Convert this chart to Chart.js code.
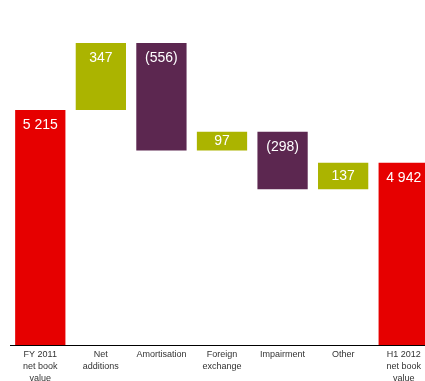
<!DOCTYPE html>
<html>
<head>
<meta charset="utf-8">
<script src="https://cdn.jsdelivr.net/npm/chart.js@4.4.0/dist/chart.umd.min.js"></script>
<style>
  html, body { margin: 0; padding: 0; background: #fff; overflow: hidden; }
  #wrap { width: 425px; height: 381px; overflow: hidden; position: relative; }
  canvas { position: absolute; left: 0; top: 0; }
</style>
</head>
<body>
<div id="wrap"><canvas id="bridge" width="434" height="381"></canvas></div>
<script>
// categories and movements (EUR m)
const categories = [
    ['FY 2011', 'net book', 'value'],
    ['Net', 'additions'],
    'Amortisation',
    ['Foreign', 'exchange'],
    'Impairment',
    'Other',
    ['H1 2012', 'net book', 'value']
]
const values = [5215, 347, -556, 97, -298, 137, 4942]
const isTotal = [true, false, false, false, false, false, true]

const axisMin = 4000
const axisMax = 5784

const RED = '#e60000'
const OLIVE = '#abb400'
const PLUM = '#5c2750'

// build floating bars
let running = 0
const ranges = []
const colours = []
for (let i = 0; i < values.length; i++) {
    if (isTotal[i]) {
        ranges.push([axisMin, values[i]])
        running = values[i]
        colours.push(RED)
    } else {
        ranges.push([running, running + values[i]])
        running += values[i]
        colours.push(values[i] < 0 ? PLUM : OLIVE)
    }
}

function fmt(v) {
    let s = String(Math.abs(v)).replace(/\B(?=(\d{3})+(?!\d))/g, ' ')
    return v < 0 ? '(' + s + ')' : s
}

// value labels near the top of every bar
const barLabels = {
    id: 'barLabels',
    afterDatasetsDraw(chart) {
        const ctx = chart.ctx
        const meta = chart.getDatasetMeta(0)
        ctx.save()
        ctx.fillStyle = '#ffffff'
        ctx.font = '14px "Liberation Sans", Arial, sans-serif'
        ctx.textAlign = 'center'
        ctx.textBaseline = 'middle'
        meta.data.forEach((bar, i) => {
            const top = Math.min(bar.y, bar.base)
            const h = Math.abs(bar.base - bar.y)
            ctx.fillText(fmt(values[i]), bar.x, top + Math.min(15, h / 2))
        })
        ctx.restore()
    }
}

const myChart = new Chart(document.getElementById('bridge'), {
    type: 'bar',
    data: {
        labels: categories,
        datasets: [{
            data: ranges,
            backgroundColor: colours,
            borderWidth: 0,
            categoryPercentage: 1,
            barPercentage: 0.83
        }]
    },
    options: {
        responsive: false,
        animation: false,
        devicePixelRatio: 1,
        layout: { padding: { left: 10, right: 0, top: 0, bottom: 0 } },
        plugins: {
            legend: { display: false },
            tooltip: { enabled: false }
        },
        scales: {
            x: {
                afterFit(scale) { scale.height = 36 },
                grid: { display: false, drawTicks: false },
                border: { display: true, color: '#000', width: 1 },
                ticks: {
                    color: '#333',
                    padding: 4,
                    maxRotation: 0,
                    autoSkip: false,
                    font: { family: '"Liberation Sans", Arial, sans-serif', size: 9, lineHeight: 1.3 }
                }
            },
            y: {
                display: false,
                min: axisMin,
                max: axisMax
            }
        }
    },
    plugins: [barLabels]
})
</script>
</body>
</html>
